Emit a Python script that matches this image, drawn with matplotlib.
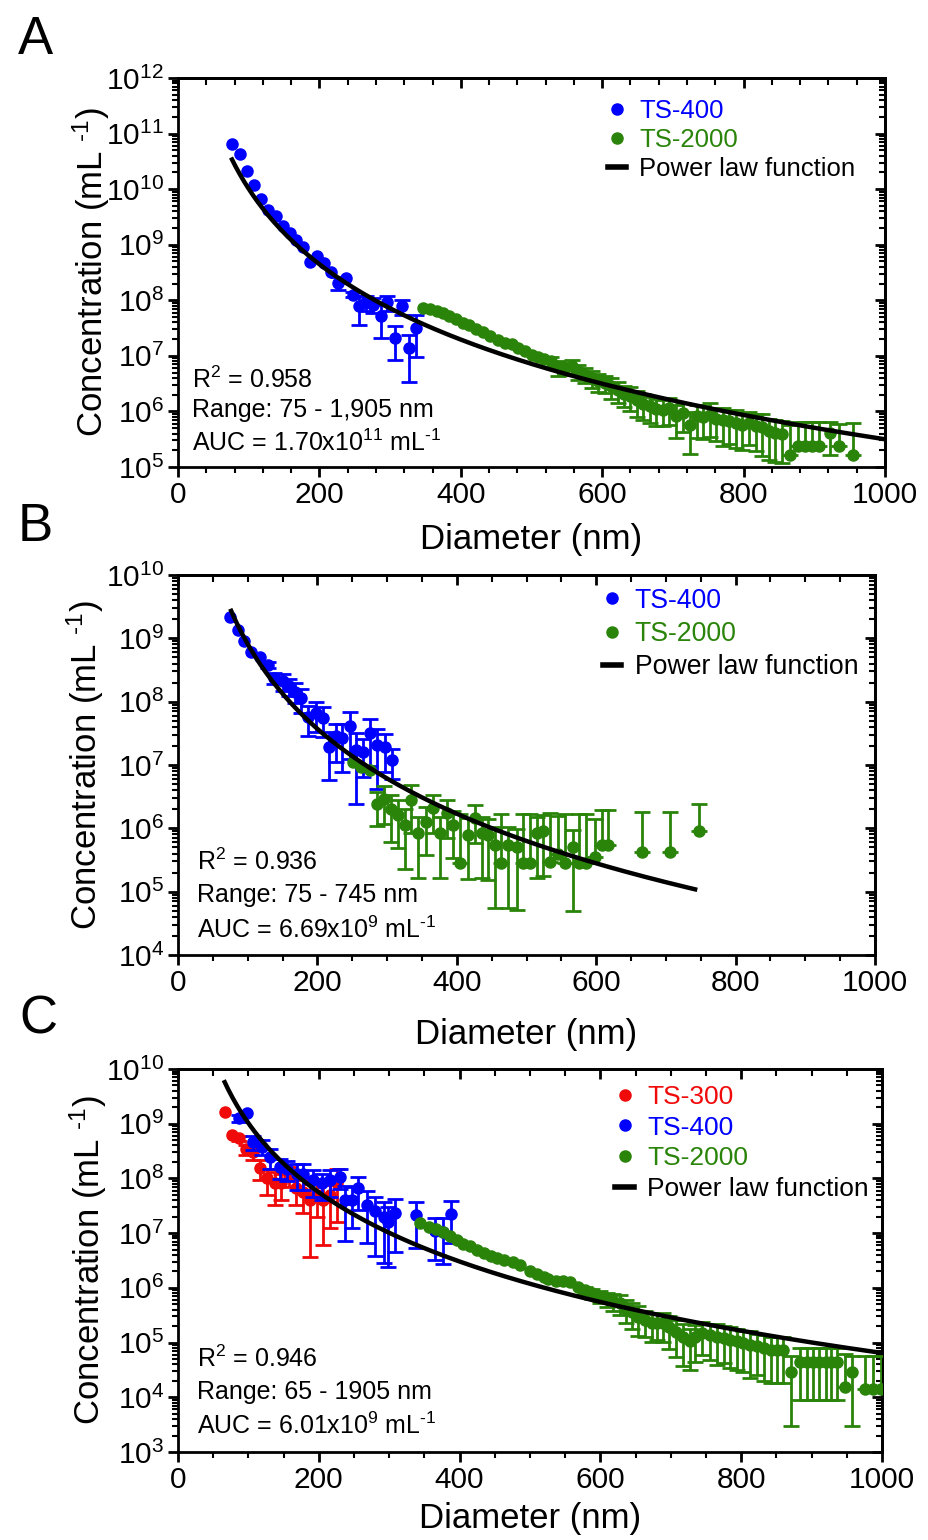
import numpy as np
import matplotlib
matplotlib.use("Agg")
import matplotlib.pyplot as plt
from matplotlib.lines import Line2D
from matplotlib.ticker import LogLocator, MultipleLocator, FixedLocator, NullFormatter, LogFormatterMathtext

plt.rcParams['font.family'] = ['Liberation Sans', 'DejaVu Sans']
plt.rcParams['mathtext.fontset'] = 'custom'
plt.rcParams['mathtext.rm'] = 'Liberation Sans'
plt.rcParams['mathtext.it'] = 'Liberation Sans:italic'
plt.rcParams['mathtext.bf'] = 'Liberation Sans:bold'
plt.rcParams['mathtext.default'] = 'regular'

BLUE = '#0000ff'
GREEN = '#2a840a'
RED = '#f00a0a'

# ---------------- Panel A ----------------
A_blue_x = [76, 87, 97, 108, 117, 128, 139, 149, 158, 167, 177, 187, 197, 206, 216, 227, 237, 247, 256, 266, 276, 287, 296, 307, 317, 327, 337]
A_blue_logy = [10.82, 10.64, 10.33, 10.07, 9.83, 9.62, 9.52, 9.34, 9.21, 9.08, 8.95, 8.69, 8.80, 8.67, 8.51, 8.31, 8.40, 8.10, 7.89, 7.97, 7.92, 7.72, 7.97, 7.33, 7.89, 7.14, 7.50]
A_blue_sd = [0, 0, 0, 0, 0, 0, 0, 0, 0, 0, 0, 0, 0, 0, 0, 0.26, 0, 0.1, 0.53, 0.3, 0.3, 0.6, 0.3, 0.6, 0.3, 0.75, 0.7]

A_green_x = [347, 357, 366, 375, 384, 393, 403, 412, 422, 432, 442, 452, 462, 472, 481, 491, 500, 509, 518, 527, 537, 547, 557, 566, 576, 585, 594, 604, 613, 622, 631, 640, 649, 658, 667, 676, 686, 695, 705, 714, 724, 734, 743, 752, 761, 771, 780, 789, 798, 808, 817, 826, 836, 845, 855, 866, 877, 887, 897, 907, 922, 935, 955]
A_green_logy = [7.87, 7.84, 7.81, 7.77, 7.72, 7.66, 7.60, 7.55, 7.49, 7.43, 7.36, 7.28, 7.24, 7.22, 7.15, 7.08, 7.02, 6.98, 6.94, 6.90, 6.80, 6.78, 6.81, 6.72, 6.66, 6.60, 6.54, 6.51, 6.45, 6.38, 6.31, 6.27, 6.20, 6.14, 6.09, 6.04, 6.03, 6.06, 5.92, 5.97, 5.76, 5.92, 5.90, 5.94, 5.86, 5.84, 5.82, 5.80, 5.76, 5.79, 5.74, 5.72, 5.64, 5.62, 5.60, 5.22, 5.37, 5.37, 5.37, 5.37, 5.61, 5.38, 5.22]
A_green_sd = [0, 0, 0, 0, 0, 0, 0, 0, 0, 0, 0, 0, 0, 0, 0, 0, 0, 0, 0, 0.2, 0.3, 0.25, 0.3, 0.3, 0.3, 0.35, 0.35, 0.35, 0.4, 0.4, 0.4, 0.45, 0.5, 0.5, 0.5, 0.5, 0.5, 0.5, 0.6, 0.55, 0.7, 0.6, 0.6, 0.6, 0.6, 0.65, 0.6, 0.65, 0.65, 0.6, 0.65, 0.7, 0.7, 0.7, 0.7, 2.5, 1.7, 1.7, 1.7, 1.7, 0.6, 1.5, 2.8]

A_fit = dict(x0=75, x1=1000, logc=19.02, b=-4.507)
A_text = ["R$^{2}$ = 0.958", "Range: 75 - 1,905 nm", "AUC = 1.70x10$^{11}$ mL$^{\\text{-1}}$"]

# ---------------- Panel B ----------------
B_blue_x = [75, 86, 94, 105, 117, 129, 138, 150, 159, 168, 177, 187, 198, 208, 216, 227, 236, 247, 256, 266, 276, 285, 297, 307]
B_blue_logy = [9.33, 9.13, 8.95, 8.79, 8.70, 8.58, 8.37, 8.32, 8.24, 8.16, 8.05, 7.76, 7.82, 7.74, 7.29, 7.45, 7.42, 7.61, 7.24, 7.21, 7.50, 7.32, 7.29, 7.08]
B_blue_sd = [0, 0, 0, 0, 0, 0.1, 0.2, 0.3, 0.3, 0.35, 0.4, 0.5, 0.5, 0.5, 0.7, 0.6, 0.7, 0.7, 0.86, 0.6, 0.7, 0.8, 0.6, 0.5]

B_green_x = [251, 263, 276, 285, 295, 306, 316, 325, 335, 345, 356, 366, 376, 386, 395, 405, 416, 426, 436, 445, 455, 464, 474, 486, 495, 505, 515, 523, 534, 545, 555, 566, 576, 586, 598, 608, 617, 665, 706, 747]
B_green_logy = [7.04, 6.97, 6.92, 6.39, 6.47, 6.30, 6.21, 6.05, 6.45, 5.92, 6.10, 6.32, 5.92, 6.24, 6.05, 5.45, 5.90, 6.16, 5.92, 5.89, 5.74, 5.45, 5.74, 5.71, 5.45, 5.45, 5.92, 5.95, 5.47, 5.60, 5.45, 5.70, 5.45, 5.45, 5.55, 5.74, 5.74, 5.63, 5.63, 5.95]
B_green_sd = [0, 0, 0, 0.55, 0.6, 0.7, 0.7, 0.8, 0.7, 0.8, 0.7, 0.6, 0.8, 0.6, 0.7, 5.0, 0.8, 0.6, 0.8, 0.8, 0.9, 5.0, 0.9, 0.9, 5.0, 5.0, 0.8, 0.8, 5.0, 3.0, 5.0, 0.9, 5.0, 5.0, 3.0, 2.5, 2.5, 3.3, 3.3, 1.7]

B_fit = dict(x0=75, x1=745, logc=17.81, b=-4.45)
B_text = ["R$^{2}$ = 0.936", "Range: 75 - 745 nm", "AUC = 6.69x10$^{9}$ mL$^{\\text{-1}}$"]

# ---------------- Panel C ----------------
C_red_x = [67, 76, 87, 97, 107, 117, 126, 138, 147, 157, 168, 178, 188, 197, 206, 216, 226]
C_red_logy = [9.22, 8.79, 8.73, 8.53, 8.49, 8.19, 8.00, 7.91, 7.91, 8.06, 7.82, 7.76, 7.61, 7.70, 7.61, 7.70, 7.91]
C_red_sd = [0, 0, 0.1, 0.2, 0.3, 0.4, 0.5, 0.6, 0.5, 0.4, 0.5, 0.6, 0.91, 0.6, 0.85, 0.75, 0.8]

C_blue_x = [86, 98, 107, 119, 131, 145, 155, 169, 178, 192, 204, 216, 230, 237, 247, 256, 268, 280, 292, 299, 308, 338, 365, 377, 388]
C_blue_logy = [9.10, 9.19, 8.67, 8.58, 8.40, 8.21, 8.18, 8.09, 8.09, 7.97, 7.91, 7.97, 8.03, 7.61, 7.61, 7.82, 7.52, 7.40, 7.30, 7.21, 7.36, 7.33, 7.04, 7.03, 7.35]
C_blue_sd = [0.15, 0, 0.3, 0.3, 0.4, 0.4, 0.4, 0.5, 0.5, 0.5, 0.5, 0.5, 0.4, 0.82, 0.7, 0.6, 0.8, 0.85, 0.86, 0.85, 0.8, 0.75, 0.7, 0.75, 0.7]

C_green_x = [344, 356, 366, 376, 386, 396, 405, 415, 425, 434, 444, 453, 463, 476, 486, 500, 510, 520, 526, 537, 547, 557, 568, 578, 588, 599, 609, 618, 628, 637, 645, 654, 663, 673, 681, 689, 698, 708, 718, 727, 735, 744, 755, 765, 775, 784, 794, 803, 813, 822, 832, 843, 851, 859, 871, 883, 893, 902, 911, 920, 928, 936, 947, 957, 976, 987, 998]
C_green_logy = [7.18, 7.12, 7.08, 7.02, 6.95, 6.88, 6.81, 6.76, 6.70, 6.64, 6.58, 6.54, 6.51, 6.48, 6.42, 6.30, 6.26, 6.20, 6.17, 6.13, 6.12, 6.11, 6.02, 5.96, 5.90, 5.84, 5.80, 5.76, 5.72, 5.62, 5.55, 5.47, 5.41, 5.35, 5.35, 5.35, 5.28, 5.20, 5.10, 5.02, 5.10, 5.17, 5.13, 5.11, 5.08, 5.05, 5.02, 4.99, 4.96, 4.93, 4.90, 4.86, 4.86, 4.86, 4.47, 4.65, 4.65, 4.65, 4.65, 4.65, 4.65, 4.65, 4.19, 4.47, 4.16, 4.16, 4.16]
C_green_sd = [0] * 23 + [0.15, 0.2, 0.25, 0.3, 0.35, 0.4, 0.45, 0.5, 0.55, 0.5, 0.55, 0.5, 0.55, 0.6, 0.65, 0.7, 0.7, 0.65, 0.6, 0.65, 0.7, 0.65, 0.7, 0.7, 0.7, 0.75, 0.7, 0.75, 0.75, 0.75, 0.75, 0.9, 0.8, 0.8, 0.8, 0.8, 0.8, 0.8, 0.8, 3.0, 0.9, 3.0, 3.0, 3.0]

C_fit = dict(x0=65, x1=1000, logc=17.41, b=-4.20)
C_text = ["R$^{2}$ = 0.946", "Range: 65 - 1905 nm", "AUC = 6.01x10$^{9}$ mL$^{\\text{-1}}$"]

TICK_FS = 21.5
LABEL_FS = 25
ANN_FS = 18

fig = plt.figure(figsize=(9.29, 15.4), dpi=100)
W, H = 929.0, 1540.0


def px_axes(l, t, r, b):
    return fig.add_axes([l / W, 1 - b / H, (r - l) / W, (b - t) / H])


def series(ax, x, logy, sd, color, z):
    x = np.asarray(x, float)
    y = 10 ** np.asarray(logy, float)
    sd = np.asarray(sd, float)
    m = sd > 0
    hi = sd * y
    lo = np.where(sd < 1, sd, 0.0) * y
    ax.errorbar(x[m], y[m], yerr=[lo[m], hi[m]], fmt='none', ecolor=color,
                elinewidth=2.0, capsize=5.5, capthick=2.0, zorder=z)
    ax.plot(x, y, 'o', color=color, ms=8, zorder=z + 0.5)


def style(ax, ylo, yhi, xminor):
    ax.set_yscale('log')
    ax.set_xlim(0, 1000)
    ax.set_ylim(10.0 ** ylo, 10.0 ** yhi)
    for s in ax.spines.values():
        s.set_linewidth(2.0)
    ax.xaxis.set_major_locator(FixedLocator([0, 200, 400, 600, 800, 1000]))
    ax.xaxis.set_minor_locator(MultipleLocator(xminor))
    ax.yaxis.set_major_locator(LogLocator(base=10, numticks=20))
    ax.yaxis.set_minor_locator(LogLocator(base=10, subs=np.arange(2, 10), numticks=20))
    ax.yaxis.set_minor_formatter(NullFormatter())
    ax.yaxis.set_major_formatter(LogFormatterMathtext())
    ax.tick_params(which='major', direction='out', length=7, width=2.0, labelsize=TICK_FS, pad=3)
    ax.tick_params(which='minor', direction='out', length=4, width=1.5)
    sx = ax.secondary_xaxis('top')
    sx.xaxis.set_major_locator(FixedLocator([0, 200, 400, 600, 800, 1000]))
    sx.xaxis.set_minor_locator(MultipleLocator(xminor))
    sx.tick_params(which='major', direction='in', length=7, width=2.0, labeltop=False)
    sx.tick_params(which='minor', direction='in', length=5, width=1.5)
    sx.spines['top'].set_linewidth(2.0)
    sy = ax.secondary_yaxis('right')
    sy.yaxis.set_major_locator(LogLocator(base=10, numticks=20))
    sy.yaxis.set_minor_locator(LogLocator(base=10, subs=np.arange(2, 10), numticks=20))
    sy.tick_params(which='major', direction='in', length=7, width=2.0, labelright=False)
    sy.tick_params(which='minor', direction='in', length=4, width=1.5)
    sy.yaxis.set_minor_formatter(NullFormatter())
    sy.spines['right'].set_linewidth(2.0)


def fit_line(ax, f):
    xs = np.linspace(f['x0'], f['x1'], 300)
    ys = 10 ** f['logc'] * xs ** f['b']
    ax.plot(xs, ys, color='k', lw=3.2, zorder=10, solid_capstyle='butt')


def annotate(ax, lines, x, ys):
    for s, yy in zip(lines, ys):
        ax.text(x, yy, s, transform=ax.transAxes, fontsize=ANN_FS, ha='left', va='center', zorder=12)


def legend(ax, entries, anchor, spacing, fs):
    handles = []
    labels = []
    colors = []
    for lab, col, kind in entries:
        if kind == 'm':
            handles.append(Line2D([], [], marker='o', ls='', color=col, ms=8))
        else:
            handles.append(Line2D([], [], color='k', lw=4))
        labels.append(lab)
        colors.append(col)
    ax.legend(handles, labels, loc='upper right', bbox_to_anchor=anchor, frameon=False,
              fontsize=fs, handlelength=0.7, handletextpad=0.5, labelspacing=spacing,
              borderpad=0, borderaxespad=0, labelcolor=colors, numpoints=1)


ylab = 'Concentration (mL $^{\\text{-1}}$)'

# Panel A
axA = px_axes(178, 78, 885, 467)
style(axA, 5, 12, 40)
series(axA, A_blue_x, A_blue_logy, A_blue_sd, BLUE, 3)
series(axA, A_green_x, A_green_logy, A_green_sd, GREEN, 4)
fit_line(axA, A_fit)
annotate(axA, A_text, 0.02, [0.224, 0.146, 0.061])
legend(axA, [('TS-400', BLUE, 'm'), ('TS-2000', GREEN, 'm'), ('Power law function', 'k', 'l')], (0.958, 0.947), 0.2, 18.5)
axA.set_xlabel('Diameter (nm)', fontsize=LABEL_FS, labelpad=10)
axA.set_ylabel(ylab, fontsize=LABEL_FS, labelpad=-4)

# Panel B
axB = px_axes(178, 575, 875, 955)
style(axB, 4, 10, 50)
series(axB, B_blue_x, B_blue_logy, B_blue_sd, BLUE, 3)
series(axB, B_green_x, B_green_logy, B_green_sd, GREEN, 4)
fit_line(axB, B_fit)
annotate(axB, B_text, 0.027, [0.245, 0.158, 0.066])
legend(axB, [('TS-400', BLUE, 'm'), ('TS-2000', GREEN, 'm'), ('Power law function', 'k', 'l')], (0.976, 0.967), 0.28, 19.2)
axB.set_xlabel('Diameter (nm)', fontsize=LABEL_FS, labelpad=15)
axB.set_ylabel(ylab, fontsize=LABEL_FS, labelpad=0)

# Panel C
axC = px_axes(178, 1069, 882, 1452)
style(axC, 3, 10, 50)
series(axC, C_red_x, C_red_logy, C_red_sd, RED, 3)
series(axC, C_blue_x, C_blue_logy, C_blue_sd, BLUE, 4)
series(axC, C_green_x, C_green_logy, C_green_sd, GREEN, 5)
fit_line(axC, C_fit)
annotate(axC, C_text, 0.027, [0.243, 0.157, 0.068])
legend(axC, [('TS-300', RED, 'm'), ('TS-400', BLUE, 'm'), ('TS-2000', GREEN, 'm'), ('Power law function', 'k', 'l')], (0.981, 0.958), 0.25, 19.0)
axC.set_xlabel('Diameter (nm)', fontsize=LABEL_FS, labelpad=6)
axC.set_ylabel(ylab, fontsize=LABEL_FS, labelpad=-2)

for lab, (px, py) in zip(['A', 'B', 'C'], [(35, 40), (35, 527), (38, 1020)]):
    fig.text(px / W, 1 - py / H, lab, fontsize=38, ha='center', va='center')

fig.savefig('out.png', dpi=100)
